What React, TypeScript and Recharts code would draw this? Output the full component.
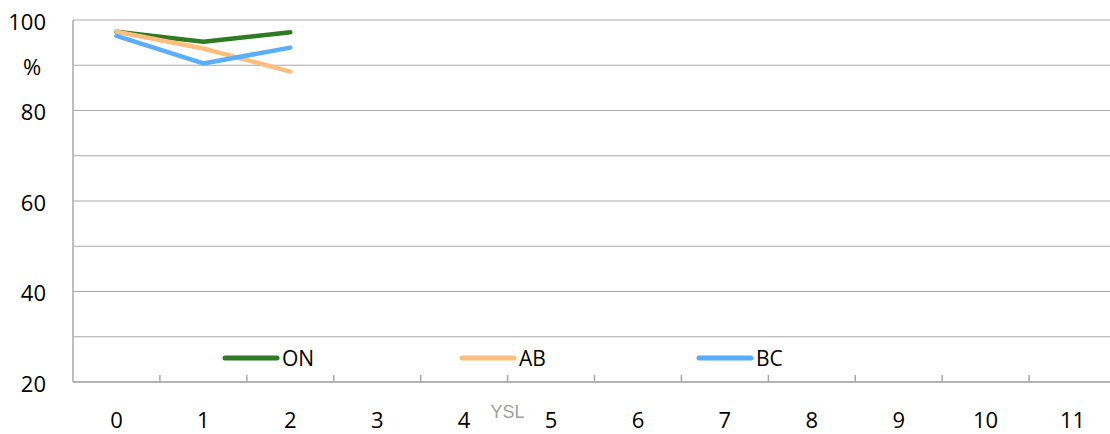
import React from 'react';
import { LineChart, Line, XAxis, YAxis, CartesianGrid, Legend } from 'recharts';

const categories = [0, 1, 2, 3, 4, 5, 6, 7, 8, 9, 10, 11];
const onValues = [97.4, 95.2, 97.3];
const abValues = [97.4, 93.7, 88.6];
const bcValues = [96.5, 90.4, 93.9];
const yTicks = [20, 30, 40, 50, 60, 70, 80, 90, 100];
const yLabels: { [key: number]: string } = { 20: '20', 40: '40', 60: '60', 80: '80', 90: '%', 100: '100' };

const SERIES = [
  { key: 'ON', name: 'ON', color: '#2E7B24', values: onValues },
  { key: 'AB', name: 'AB', color: '#FFBE7D', values: abValues },
  { key: 'BC', name: 'BC', color: '#5AAEFF', values: bcValues },
];

const data = categories.map((x, i) => {
  const row: { [key: string]: number | undefined } = { x };
  SERIES.forEach((s) => {
    row[s.key] = s.values[i];
  });
  return row;
});

const FONT = '"Open Sans", sans-serif';
const GRID = '#A8A8A8';
const WIDTH = 1110;
const HEIGHT = 426;
const Y_AXIS_W = 65;
const MARGIN = { top: 12, right: 2, bottom: 0, left: 0 };
const PLOT_W = WIDTH - MARGIN.left - MARGIN.right - Y_AXIS_W;
const HALF_BAND = PLOT_W / categories.length / 2;
// right edge of the y tick labels
const Y_LABEL_X = MARGIN.left + Y_AXIS_W - 27;

const XTick = (props: any) => {
  const { x, y, payload } = props;
  return (
    <g>
      <line x1={x + HALF_BAND} x2={x + HALF_BAND} y1={y} y2={y - 7} stroke={GRID} strokeWidth={1.5} />
      <text x={x} y={y + 38} dy="0.35em" textAnchor="middle" fill="#000" fontSize={22} fontFamily={FONT}>
        {payload.value}
      </text>
    </g>
  );
};

const YTick = (props: any) => {
  const { y, payload } = props;
  const label = yLabels[payload.value] || '';
  if (!label) return null;
  const isUnit = label === '%';
  return (
    <text
      x={isUnit ? Y_LABEL_X - 14 : Y_LABEL_X}
      y={y + 2}
      dy="0.35em"
      textAnchor={isUnit ? 'middle' : 'end'}
      fill="#000"
      fontSize={22}
      fontFamily={FONT}
    >
      {label}
    </text>
  );
};

const renderLegend = () => (
  <div style={{ display: 'flex', fontFamily: FONT, fontSize: 21, color: '#000' }}>
    {SERIES.map((s) => (
      <div key={s.key} style={{ width: 237, height: 24, display: 'flex', alignItems: 'center' }}>
        <svg width={60} height={8}>
          <line x1={5} x2={57} y1={4} y2={4} stroke={s.color} strokeWidth={5} strokeLinecap="round" />
        </svg>
        <span style={{ marginLeft: 2, lineHeight: '24px' }}>{s.name}</span>
      </div>
    ))}
  </div>
);

const App: React.FC = () => {
  return (
    <div style={{ position: 'absolute', left: 8, top: 8, width: 1102, height: HEIGHT, overflow: 'hidden' }}>
      <LineChart width={WIDTH} height={HEIGHT} data={data} margin={MARGIN}>
        <CartesianGrid vertical={false} stroke={GRID} strokeWidth={1.2} />
        <XAxis
          dataKey="x"
          type="number"
          domain={[-0.5, 11.5]}
          ticks={categories}
          interval={0}
          height={HEIGHT - MARGIN.top - 362}
          tickLine={false}
          tickSize={0}
          tickMargin={0}
          axisLine={{ stroke: GRID, strokeWidth: 1.5 }}
          tick={<XTick />}
          label={{
            value: 'YSL',
            position: 'insideTop',
            dx: -2 * HALF_BAND,
            dy: 18,
            fill: '#A0A0A0',
            fontSize: 18,
            fontFamily: '"Liberation Sans", Arial, sans-serif',
          }}
        />
        <YAxis
          type="number"
          domain={[20, 100]}
          ticks={yTicks}
          interval={0}
          width={Y_AXIS_W}
          tickLine={false}
          tickSize={0}
          tickMargin={27}
          axisLine={{ stroke: GRID, strokeWidth: 1.5 }}
          tick={<YTick />}
        />
        <Legend
          layout="horizontal"
          verticalAlign="middle"
          align="center"
          content={renderLegend}
          wrapperStyle={{ position: 'absolute', left: 212, top: 338, width: 'auto' }}
        />
        {SERIES.map((s) => (
          <Line
            key={s.key}
            dataKey={s.key}
            name={s.name}
            stroke={s.color}
            strokeWidth={4.5}
            strokeLinecap="round"
            strokeLinejoin="round"
            dot={false}
            activeDot={false}
            isAnimationActive={false}
          />
        ))}
      </LineChart>
    </div>
  );
};

export default App;
